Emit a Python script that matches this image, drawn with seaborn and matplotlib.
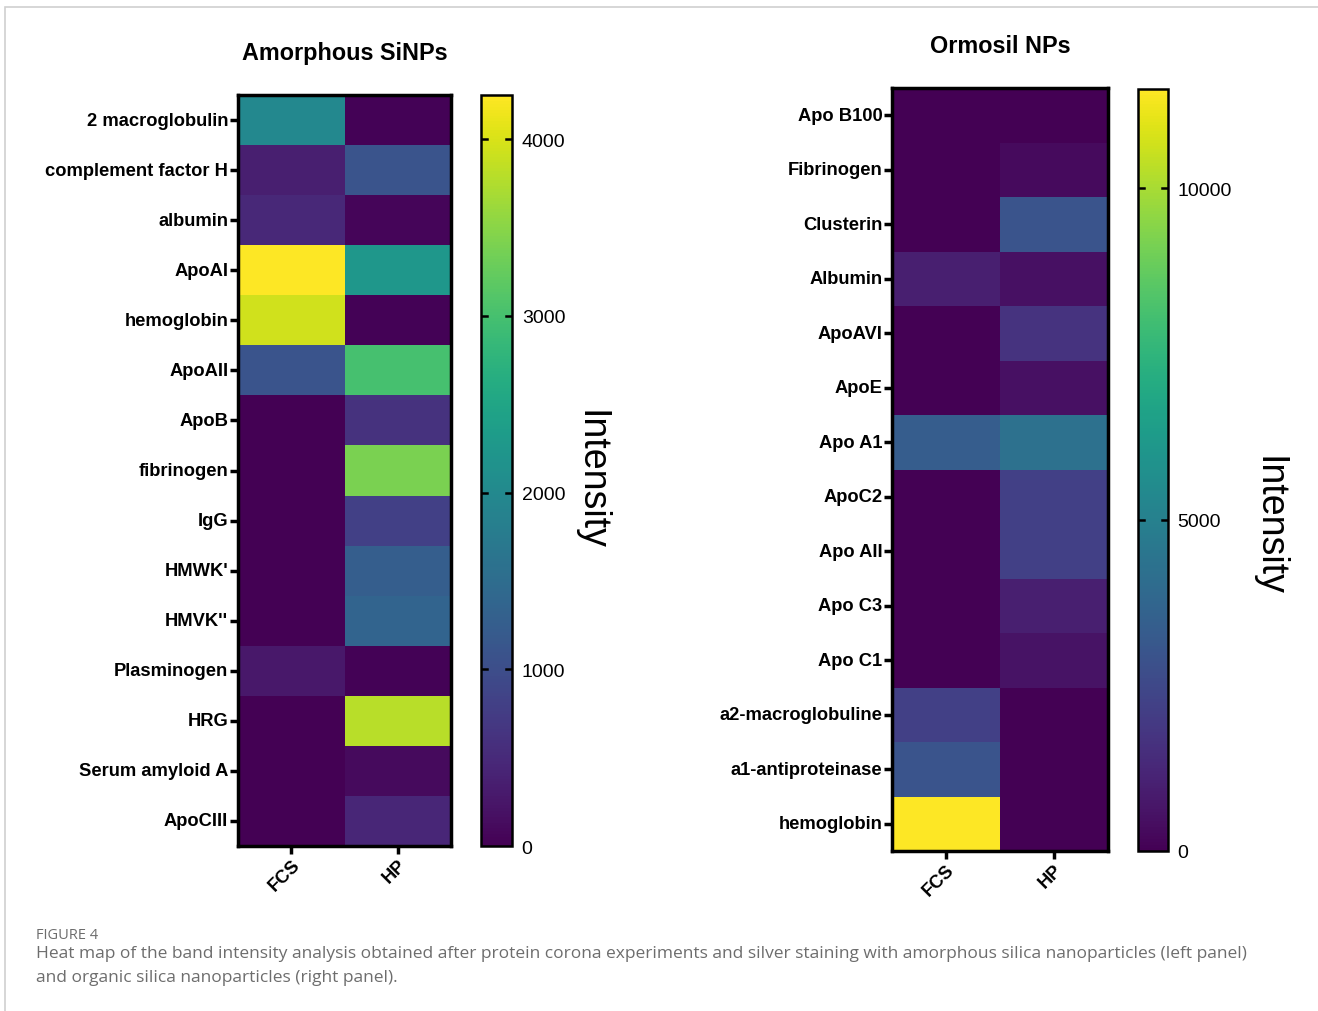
import matplotlib
matplotlib.use("Agg")
import matplotlib.pyplot as plt
from matplotlib.patches import Rectangle
import pandas as pd
import seaborn as sns

# left panel: amorphous SiNPs
amorph_proteins = ["2 macroglobulin", "complement factor H", "albumin", "ApoAI",
                   "hemoglobin", "ApoAII", "ApoB", "fibrinogen", "IgG", "HMWK'",
                   "HMVK''", "Plasminogen", "HRG", "Serum amyloid A", "ApoCIII"]
amorph_fcs = [1980, 350, 480, 4250, 3950, 1100, 0, 0, 0, 0, 0, 280, 0, 0, 0]
amorph_hp = [20, 1100, 60, 2250, 20, 3000, 600, 3400, 800, 1250, 1350, 20, 3800, 100, 450]

# right panel: ormosil NPs
ormosil_proteins = ["Apo B100", "Fibrinogen", "Clusterin", "Albumin", "ApoAVI", "ApoE",
                    "Apo A1", "ApoC2", "Apo AII", "Apo C3", "Apo C1",
                    "a2-macroglobuline", "a1-antiproteinase", "hemoglobin"]
ormosil_fcs = [0, 0, 0, 950, 0, 0, 3350, 0, 0, 0, 0, 2200, 3000, 11500]
ormosil_hp = [0, 300, 3000, 450, 1700, 450, 4250, 2200, 2200, 950, 550, 0, 0, 0]

conditions = ["FCS", "HP"]

W, H = 1318, 1012


def px_axes(fig, x0, y0, x1, y1):
    return fig.add_axes([x0 / W, 1 - y1 / H, (x1 - x0) / W, (y1 - y0) / H])


def panel(fig, box, cbox, proteins, fcs, hp, vmax, ticks, title, lab_xy):
    df = pd.DataFrame({"FCS": fcs, "HP": hp}, index=proteins)[conditions]
    ax = px_axes(fig, *box)
    cax = px_axes(fig, *cbox)
    sns.heatmap(df, ax=ax, cbar_ax=cax, cmap="viridis", vmin=0, vmax=vmax,
                cbar_kws={"ticks": ticks})
    for s in ax.spines.values():
        s.set_visible(True)
        s.set_linewidth(2.5)
        s.set_color("black")
    ax.tick_params(axis="both", length=6, width=2.5, color="black", pad=1)
    ax.set_yticklabels(proteins, rotation=0, fontsize=13.2, fontweight="bold")
    ax.set_xticklabels(conditions, rotation=45, fontsize=13.2, fontweight="bold",
                       ha="right", va="top", rotation_mode="anchor")
    ax.set_xlabel("")
    ax.set_ylabel("")
    ax.set_title(title, fontsize=16.8, fontweight="bold", pad=26)
    cax.tick_params(length=0, labelsize=14, pad=7)
    # short tick dashes on both edges of the colour bar
    for t in ticks[1:]:
        cax.axhline(t, xmin=0.0, xmax=0.2, color="black", lw=1.8)
        cax.axhline(t, xmin=0.8, xmax=1.0, color="black", lw=1.8)
    cb = ax.collections[0].colorbar
    cb.outline.set_linewidth(1.8)
    cb.outline.set_edgecolor("black")
    fig.text(lab_xy[0] / W, 1 - lab_xy[1] / H, "Intensity", rotation=-90,
             fontsize=27, ha="center", va="center")
    return ax


plt.rcParams["font.family"] = ["Liberation Sans", "DejaVu Sans"]
fig = plt.figure(figsize=(W / 100, H / 100), dpi=100)

panel(fig, (238, 96, 451, 847), (481, 96, 512, 847), amorph_proteins,
      amorph_fcs, amorph_hp, 4250, [0, 1000, 2000, 3000, 4000],
      "Amorphous SiNPs", (591, 480))
panel(fig, (892, 89, 1108, 852), (1138, 90, 1168, 852), ormosil_proteins,
      ormosil_fcs, ormosil_hp, 11500, [0, 5000, 10000],
      "Ormosil NPs", (1269, 526))

# frame of the figure page
fig.patches.append(Rectangle((5 / W, -0.01), 1.2, 1 - 8 / H + 0.01,
                             transform=fig.transFigure, fill=False,
                             edgecolor="#d0d0d0", lw=1.2))

fig.text(36 / W, 1 - 936 / H, "FIGURE 4", fontsize=10.5, color="#6d6d6d",
         family="Open Sans", va="center")
fig.text(36 / W, 1 - 954 / H,
         "Heat map of the band intensity analysis obtained after protein corona experiments "
         "and silver staining with amorphous silica nanoparticles (left panel)",
         fontsize=12.5, color="#6d6d6d", family="Open Sans", va="center")
fig.text(36 / W, 1 - 978 / H, "and organic silica nanoparticles (right panel).",
         fontsize=12.5, color="#6d6d6d", family="Open Sans", va="center")

fig.savefig("out.png", dpi=100)
